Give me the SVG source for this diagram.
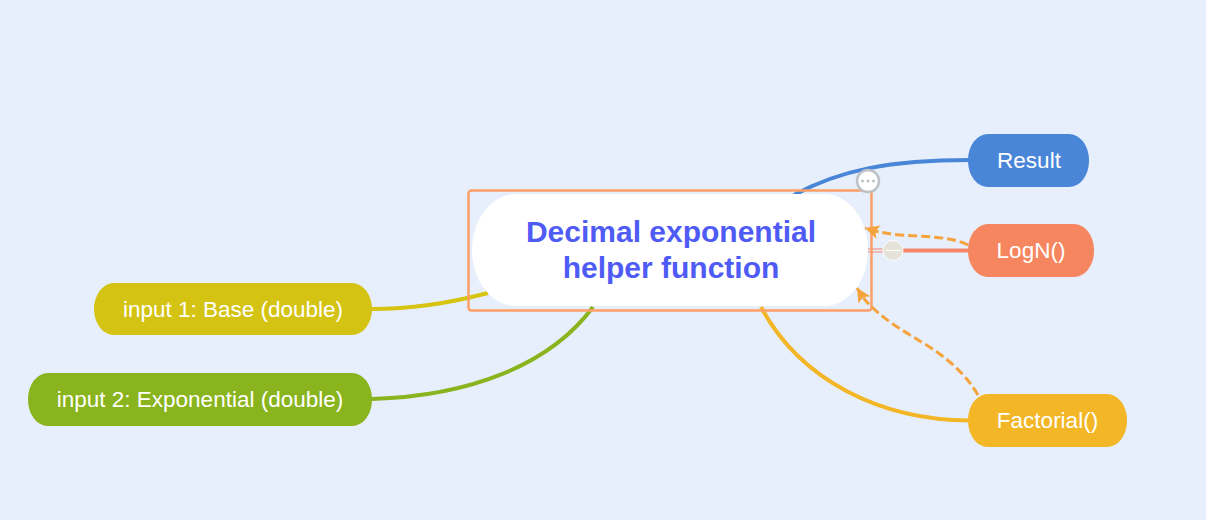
<svg xmlns="http://www.w3.org/2000/svg" width="1206" height="520" viewBox="0 0 1206 520">
<style>
text{font-family:"Liberation Sans",Arial,sans-serif;text-anchor:middle}
.l{font-size:22.500px;fill:#fff}
.c{fill:none;stroke-width:4}
.d{fill:none;stroke:#f5a33c;stroke-width:3;stroke-dasharray:9 4}
</style>
<defs>
<marker id="ah" markerUnits="userSpaceOnUse" markerWidth="16" markerHeight="16" refX="15" refY="8" orient="auto"><path d="M15 8L1 1L4 8L1 15Z" fill="#f5a33c"/></marker>
</defs>
<rect width="1206" height="520" fill="#e7effc"/>
<g id="connectors">
<path class="c" stroke="#4a86d8" d="M794 195C840 170 890 160 970 160"/>
<path class="c" stroke="#d6c411" d="M372 309C415 309 450 303 488 293"/>
<path class="c" stroke="#8ab41e" d="M372 399C470 396 550 365 593 307"/>
<path class="c" stroke="#f3b626" d="M761 307C800 380 880 420 970 420.500"/>
<path d="M868 249H883M868 252H883" stroke="#f5866a" stroke-width="1.200" fill="none"/>
<path stroke="#f5866a" stroke-width="4" d="M893 250.500H970" fill="none"/>
</g>
<g id="selection"><rect x="468.500" y="190.500" width="403" height="120" rx="3" fill="none" stroke="#fd9f66" stroke-width="2.500"/></g>
<g id="center"><rect x="472" y="194" width="396" height="112" rx="44" ry="56" fill="#fff"/>
<text x="671" y="242" font-size="30" font-weight="700" fill="#4f5bf5">Decimal exponential</text>
<text x="671" y="278" font-size="30" font-weight="700" fill="#4f5bf5">helper function</text></g>
<g id="links">
<path class="d" marker-end="url(#ah)" d="M968 245C950 236 925 237 900 235C888 234 878 232 865 228"/>
<path class="d" marker-end="url(#ah)" d="M978 395C968 378 955 365 937 352C920 340 890 325 873 308C866 302 862 296 857 288"/>
</g>
<g id="result"><rect x="968" y="134" width="121" height="53" rx="20" ry="26" fill="#4a86d8"/><text class="l" x="1029" y="167.500">Result</text></g>
<g id="logn"><rect x="968" y="224" width="126" height="53" rx="20" ry="26" fill="#f68660"/><text class="l" x="1031" y="257.500">LogN()</text></g>
<g id="factorial"><rect x="968" y="394" width="159" height="53" rx="20" ry="26" fill="#f3b626"/><text class="l" x="1047.500" y="427.500">Factorial()</text></g>
<g id="input1"><rect x="94" y="283" width="278" height="52" rx="20" ry="26" fill="#d5c313"/><text class="l" x="233" y="317">input 1: Base (double)</text></g>
<g id="input2"><rect x="28" y="373" width="344" height="53" rx="20" ry="26" fill="#8ab41e"/><text class="l" x="200" y="407">input 2: Exponential (double)</text></g>
<g id="comment"><path d="M865 192L875 192L874 187Z" fill="#b9bfc4"/><circle cx="868" cy="181" r="11" fill="#fff" stroke="#bcc2c6" stroke-width="2.500"/><circle cx="862.500" cy="181" r="1.500" fill="#bcc2c6"/><circle cx="868" cy="181" r="1.500" fill="#bcc2c6"/><circle cx="873.500" cy="181" r="1.500" fill="#bcc2c6"/></g>
<g id="collapse"><circle cx="893" cy="250.500" r="10" fill="#e5e2da" stroke="#fff" stroke-width="1"/><path d="M886 250.500H900" stroke="#fff" stroke-width="1.200"/></g>
</svg>
